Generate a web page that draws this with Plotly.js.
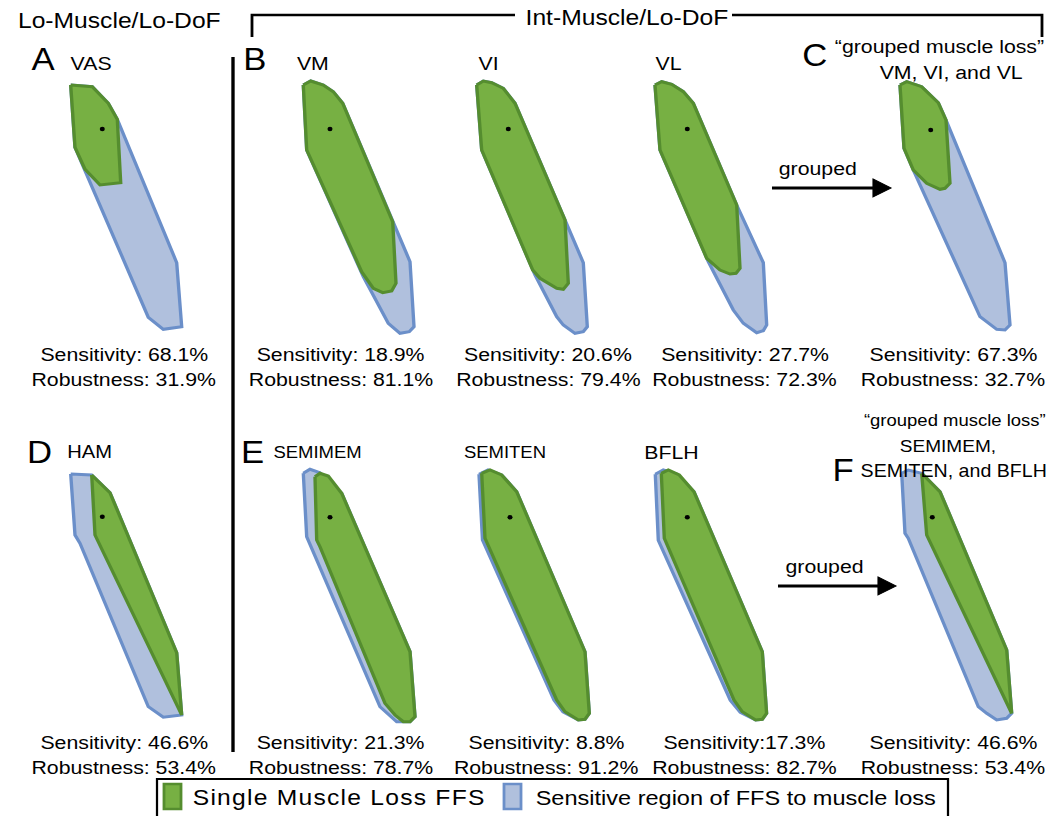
<!DOCTYPE html>
<html><head><meta charset="utf-8">
<script src="https://cdn.plot.ly/plotly-3.0.1.min.js"></script>
<style>
html,body{margin:0;padding:0;background:#fff;overflow:hidden}
#wrap{width:1060px;height:816px;overflow:hidden;position:relative}
#plot{position:absolute;left:0;top:0;transform:scaleX(1.1205);transform-origin:0 0}
</style></head><body>
<div id="wrap"><div id="plot"></div></div>
<script>
// ---------------- DATA ----------------
const muscles = ['VAS','VM','VI','VL','VM, VI, and VL','HAM','SEMIMEM','SEMITEN','BFLH','SEMIMEM, SEMITEN, and BFLH'];
const sensitivity = [68.1, 18.9, 20.6, 27.7, 67.3, 46.6, 21.3, 8.8, 17.3, 46.6];
const robustness  = [31.9, 81.1, 79.4, 72.3, 32.7, 53.4, 78.7, 91.2, 82.7, 53.4];
const sensitivitySep = [' ',' ',' ',' ',' ',' ',' ',' ','',' '];

// Feasible force set outlines, vertices relative to the optimum point (dot)
// "sensitive" = full FFS (blue), "single" = FFS after muscle loss (green)
const sensitive_VAS = [[-31.6,-44],[-10,-42.3],[6,-25.7],[15,-9.7],[74.4,133.7],[79.4,197.7],[61,200.3],[46,188.3],[-19,37.7],[-27.3,18.3]];
const single_VAS    = [[-31.6,-44],[-10,-42.3],[6,-25.7],[15,-9.7],[18.4,53.7],[-2.3,56],[-17.3,40.3],[-27.3,18.3]];

const sensitive_VM = [[-26.7,-44],[-19.3,-48],[-6.7,-44],[3.3,-37.3],[12.7,-25.7],[62.7,92.7],[80,132.7],[84,197.7],[79.3,202.7],[70,204.3],[58.3,194.3],[33.3,147.7],[-23.3,21]];
const single_VM    = [[-26.7,-44],[-19.3,-48],[-6.7,-44],[3.3,-37.3],[12.7,-25.7],[62.7,92.7],[66,154.3],[61.7,162],[52.7,163.7],[43.3,159.3],[31.7,142.7],[-23.3,21]];

const sensitive_VI = [[-31.6,-44],[-25,-48],[-16.6,-46.3],[-5,-40.7],[6.7,-25.7],[56.7,91],[75,133.7],[79,197.7],[75,202.7],[66.7,204.3],[55,196],[48.4,187.7],[26.7,146],[-26.6,21]];
const single_VI    = [[-31.6,-44],[-25,-48],[-16.6,-46.3],[-5,-40.7],[6.7,-25.7],[56.7,91],[60,154.3],[55,160.3],[48.4,159.3],[31.7,149.3],[24.4,141],[-26.6,21]];

const sensitive_VL = [[-32.3,-44],[-25.6,-47.3],[-15.6,-44.7],[-4,-37.3],[6,-25.7],[49.4,76],[76,133.7],[79.4,196],[76,201.7],[69.4,203.7],[56,194.3],[46,181],[21,132.7],[-27.3,21]];
const single_VL    = [[-32.3,-44],[-25.6,-47.3],[-15.6,-44.7],[-4,-37.3],[6,-25.7],[49.4,76],[52.7,139.3],[48.7,144.3],[42.7,145],[32.7,141],[19.4,129.3],[-27.3,21]];

const sensitive_VMVIVL = [[-30.7,-45],[-24,-48.3],[-9,-43.3],[7.6,-27.3],[15.3,-10],[74.3,132.7],[79.3,195],[74.3,200],[66,199.3],[49.3,186.7],[-17.4,40],[-26.7,18.3]];
const single_VMVIVL    = [[-30.7,-45],[-24,-48.3],[-9,-43.3],[7.6,-27.3],[15.3,-10],[19.3,53.3],[14.3,58.3],[9.3,59.3],[-4,53.3],[-17.4,40],[-26.7,18.3]];

const sensitive_HAM = [[-31.6,-42.7],[-10.6,-41.7],[7.7,-24],[74.4,136],[79.4,198.3],[61,200.6],[46,190],[-22.3,26.6],[-27.3,18.3]];
const single_HAM    = [[-10.6,-41.7],[7.7,-24],[74.4,136],[79.4,198.3],[-7.3,18.3]];

const sensitive_SEMIMEM = [[-26.7,-44],[-20,-48],[-10,-44.6],[11.7,-24],[80,134.4],[85,199.4],[80,204.4],[66.7,204.4],[50,189.4],[-20,26],[-23.3,19.4]];
const single_SEMIMEM    = [[-15,-40.6],[-10,-44],[-1.7,-41.3],[11.7,-24],[80,134.4],[85,199.4],[80,204.4],[73.3,204.4],[65,197.7],[55,186],[-10,29.4],[-13.3,22.7]];

const sensitive_SEMITEN = [[-31,-43],[-22,-47.3],[-8.3,-42.3],[6.7,-25.6],[75,134.4],[79.3,196],[75,202],[68.3,202.7],[53,194.7],[44,182.7],[-27.5,22.7]];
const single_SEMITEN    = [[-28.3,-44],[-20,-47.3],[-8.3,-42.3],[6.7,-25.6],[75,134.4],[79.3,196],[75,202],[68.3,202.7],[55,194.4],[46.7,182.7],[-25,21]];

const sensitive_BFLH = [[-32,-43],[-24,-47.5],[-10,-43],[6.7,-25.6],[75,134.4],[79.3,196],[75,202],[68.3,202.7],[53,195],[43,183],[-29,23]];
const single_BFLH    = [[-26,-44],[-19,-47.3],[-8,-42.3],[6.7,-25.6],[75,134.4],[79.3,196],[75,202],[68.3,202.7],[55,194.4],[46.7,182.7],[-23,21]];

const sensitive_HAMgroup = [[-30.6,-44],[-24,-47.3],[-10.6,-44],[7.7,-25.6],[74.4,132.7],[79.4,196],[74.4,201],[64.4,202.7],[54.4,196],[46,189.4],[-24,21],[-27.3,16]];
const single_HAMgroup    = [[-10.6,-44],[7.7,-25.6],[74.4,132.7],[79.4,196],[-5.6,17.7]];

const sensitiveRegions = [sensitive_VAS, sensitive_VM, sensitive_VI, sensitive_VL, sensitive_VMVIVL, sensitive_HAM, sensitive_SEMIMEM, sensitive_SEMITEN, sensitive_BFLH, sensitive_HAMgroup];
const singleLossFFS    = [single_VAS, single_VM, single_VI, single_VL, single_VMVIVL, single_HAM, single_SEMIMEM, single_SEMITEN, single_BFLH, single_HAMgroup];

const legendLabels = ['Single Muscle Loss FFS', 'Sensitive region of FFS to muscle loss'];

// ---------------- LAYOUT / STYLE ----------------
const GREEN_FILL = '#77b043', GREEN_LINE = '#558d2f';
const BLUE_FILL = '#b0c0dd', BLUE_LINE = '#6b8fc9';
const FONT = '"Liberation Sans", Arial, Helvetica, sans-serif';

// panel placement: optimum point position, label position/size, stats position
const panels = [
  {ox:102.3, oy:129,   lx:91,  ly:63,  ls:19, sx:124, sy:354},
  {ox:330,   oy:129,   lx:313, ly:63,  ls:19, sx:341, sy:354},
  {ox:508.3, oy:129,   lx:489, ly:63,  ls:19, sx:548, sy:354},
  {ox:687.3, oy:129,   lx:668, ly:63,  ls:19, sx:745, sy:354},
  {ox:930.7, oy:130,   lx:null,ly:null,ls:19, sx:953, sy:354},
  {ox:102.3, oy:516.7, lx:90,  ly:452, ls:18, sx:124, sy:742},
  {ox:330,   oy:517.3, lx:318, ly:452, ls:16.5, sx:341, sy:742},
  {ox:510,   oy:517.3, lx:505, ly:452, ls:16.5, sx:546, sy:742},
  {ox:687.3, oy:517.3, lx:672, ly:452, ls:19, sx:745, sy:742},
  {ox:932.3, oy:517.3, lx:null,ly:null,ls:19, sx:953, sy:742}
];

const traces = [];
const annotations = [];
function poly(pts, p, fill, line){
  const xs = pts.map(v => p.ox + v[0]); xs.push(xs[0]);
  const ys = pts.map(v => p.oy + v[1]); ys.push(ys[0]);
  traces.push({type:'scatter', mode:'lines', x:xs, y:ys, fill:'toself', fillcolor:fill,
    line:{color:line, width:3}, hoverinfo:'skip', showlegend:false});
}
function txt(x, y, text, size, extra){
  annotations.push(Object.assign({x:x, y:y, xref:'x', yref:'y', text:text, showarrow:false,
    font:{family:FONT, size:size, color:'#000'}, xanchor:'center', yanchor:'middle'}, extra||{}));
}

panels.forEach((p, i) => {
  poly(sensitiveRegions[i], p, BLUE_FILL, BLUE_LINE);
  poly(singleLossFFS[i], p, GREEN_FILL, GREEN_LINE);
  traces.push({type:'scatter', mode:'markers', x:[p.ox], y:[p.oy],
    marker:{color:'#000', size:4.5}, hoverinfo:'skip', showlegend:false});
  if (p.lx !== null) txt(p.lx, p.ly, muscles[i], p.ls);
  txt(p.sx, p.sy, 'Sensitivity:' + sensitivitySep[i] + sensitivity[i].toFixed(1) + '%', 19);
  txt(p.sx, p.sy + 25, 'Robustness: ' + robustness[i].toFixed(1) + '%', 19);
});

// headings
txt(119, 20, 'Lo-Muscle/Lo-DoF', 22);
txt(627, 17, 'Int-Muscle/Lo-DoF', 22);
// panel letters
[['A',43,59],['B',255,59],['C',815,55],['D',39,452],['E',253,452],['F',843,470]].forEach(l => txt(l[1], l[2], l[0], 31));
// grouped titles
txt(940, 46, '\u201cgrouped muscle loss\u201d', 19);
txt(951, 72, muscles[4], 19);
txt(955, 420, '\u201cgrouped muscle loss\u201d', 16.5);
txt(948, 446, 'SEMIMEM,', 17);
txt(953, 471, 'SEMITEN, and BFLH', 17.5);
txt(818, 168, 'grouped', 19);
txt(825, 566, 'grouped', 19);
// legend text
txt(190, 797, '<span style="letter-spacing:1.1px">' + legendLabels[0] + '</span>', 22, {xanchor:'left'});
txt(533, 797, legendLabels[1], 21, {xanchor:'left'});

const shapes = [
  {type:'path', path:'M252,37 L252,15 L515,15', line:{color:'#000', width:2.5}},
  {type:'path', path:'M732,15 L1042,15 L1042,37', line:{color:'#000', width:2.5}},
  {type:'line', x0:233, x1:233, y0:57, y1:752, line:{color:'#000', width:3}},
  // arrows
  {type:'line', x0:772, x1:876, y0:188, y1:188, line:{color:'#000', width:3}},
  {type:'path', path:'M873,179 L891,188 L873,197 Z', fillcolor:'#000', line:{color:'#000', width:1}},
  {type:'line', x0:778, x1:881, y0:586, y1:586, line:{color:'#000', width:3}},
  {type:'path', path:'M878,577 L896,586 L878,595 Z', fillcolor:'#000', line:{color:'#000', width:1}},
  // legend box and swatches
  {type:'rect', x0:157, x1:948, y0:779, y1:830, line:{color:'#000', width:2}},
  {type:'rect', x0:164, x1:181, y0:784, y1:809, fillcolor:GREEN_FILL, line:{color:GREEN_LINE, width:2.5}},
  {type:'rect', x0:504, x1:521, y0:784, y1:809, fillcolor:BLUE_FILL, line:{color:BLUE_LINE, width:2.5}}
];
shapes.forEach(s => { s.xref = 'x'; s.yref = 'y'; s.layer = 'above'; });

const layout = {
  width:946, height:816,
  margin:{l:0, r:0, t:0, b:0, pad:0},
  paper_bgcolor:'#fff', plot_bgcolor:'#fff',
  xaxis:{range:[0,1060], visible:false, fixedrange:true},
  yaxis:{range:[816,0], visible:false, fixedrange:true},
  showlegend:false,
  annotations:annotations,
  shapes:shapes
};
Plotly.newPlot('plot', traces, layout, {staticPlot:true, displayModeBar:false});
</script>
</body></html>
